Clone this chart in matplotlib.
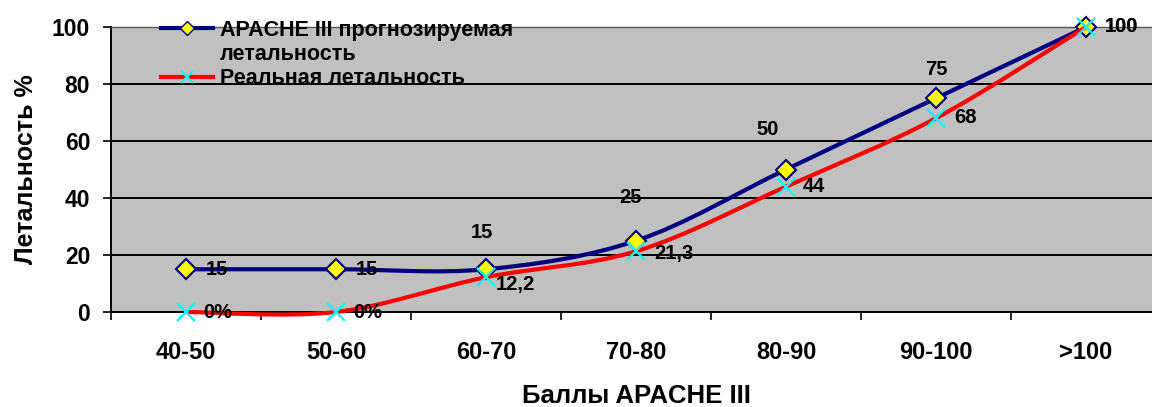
import matplotlib
matplotlib.use("Agg")
import matplotlib.pyplot as plt
from matplotlib.path import Path
from matplotlib.patches import PathPatch
from matplotlib.lines import Line2D
import numpy as np

plt.rcParams['font.family'] = ['Liberation Sans', 'DejaVu Sans']
plt.rcParams['font.weight'] = 'bold'

# ---- data ----
categories = ["40-50", "50-60", "60-70", "70-80", "80-90", "90-100", ">100"]
predicted = [15, 15, 15, 25, 50, 75, 100]
actual = [0, 0, 12.2, 21.3, 44, 68, 100]
predicted_labels = ["15", "15", "15", "25", "50", "75", "100"]
actual_labels = ["0%", "0%", "12,2", "21,3", "44", "68", "100"]
series_names = ["APACHE III прогнозируемая", "летальность", "Реальная летальность"]
y_ticks = [0, 20, 40, 60, 80, 100]

# label offsets in pixels (dx, dy up) -- layout only
pred_off = [(20, 0, 'left'), (20, 0, 'left'), (-4, 37, 'center'), (-6, 43, 'center'),
            (-18, 40, 'center'), (0, 29, 'center'), (19, 0, 'left')]
act_off = [(17, 0, 'left'), (17, 0, 'left'), (10, -7, 'left'), (18, -2, 'left'),
           (17, 0, 'left'), (18, 1, 'left'), (19, 0, 'left')]

NAVY = '#000080'
RED = '#FF0000'
GRAY = '#C0C0C0'

W, H = 1152, 407
fig = plt.figure(figsize=(W / 100, H / 100), dpi=100)
ax_l, ax_r, ax_t, ax_b = 111, 1161, 27, 312
ax = fig.add_axes([ax_l / W, 1 - ax_b / H, (ax_r - ax_l) / W, (ax_b - ax_t) / H])
ax.set_facecolor(GRAY)

x = np.arange(len(categories))


def smooth_path(xs, ys):
    pts = np.column_stack([xs, ys]).astype(float)
    n = len(pts)
    verts = [pts[0]]
    codes = [Path.MOVETO]
    for i in range(n - 1):
        p0 = pts[i - 1] if i > 0 else pts[i]
        p1 = pts[i]
        p2 = pts[i + 1]
        p3 = pts[i + 2] if i + 2 < n else pts[i + 1]
        c1 = p1 + (p2 - p0) / 6.0
        c2 = p2 - (p3 - p1) / 6.0
        verts += [c1, c2, p2]
        codes += [Path.CURVE4] * 3
    return Path(verts, codes)


px = 0.72  # pixel -> points

# predicted series
ax.add_patch(PathPatch(smooth_path(x, predicted), facecolor='none', edgecolor=NAVY,
                       lw=3, zorder=3, capstyle='round', joinstyle='round', clip_on=False))
ax.plot(x, predicted, linestyle='none', marker='D', markersize=10.5, clip_on=False,
        markerfacecolor='#FFFF00', markeredgecolor=NAVY, markeredgewidth=1.5, zorder=4)
# actual series
ax.add_patch(PathPatch(smooth_path(x, actual), facecolor='none', edgecolor=RED,
                       lw=3, zorder=5, capstyle='round', joinstyle='round', clip_on=False))
ax.plot(x, actual, linestyle='none', marker='x', markersize=13, clip_on=False,
        markeredgecolor='#00FFFF', markeredgewidth=1.6, zorder=6)

LBL = 14.5
for xi, yi, lab, (dx, dy, ha) in zip(x, predicted, predicted_labels, pred_off):
    ax.annotate(lab, (xi, yi), xytext=(dx * px, dy * px), textcoords='offset points',
                ha=ha, va='center', fontsize=LBL, fontweight='bold', zorder=7,
                annotation_clip=False)
for xi, yi, lab, (dx, dy, ha) in zip(x, actual, actual_labels, act_off):
    ax.annotate(lab, (xi, yi), xytext=(dx * px, dy * px), textcoords='offset points',
                ha=ha, va='center', fontsize=LBL, fontweight='bold', zorder=7,
                annotation_clip=False)

ax.set_xlim(-0.5, len(categories) - 0.5)
ax.set_ylim(0, 100)
ax.set_yticks(y_ticks)
ax.set_yticklabels([str(v) for v in y_ticks], fontsize=16.5, fontweight='bold')
ax.yaxis.grid(True, color='black', lw=1.4)
ax.set_axisbelow(True)
ax.tick_params(axis='y', direction='out', length=6, width=1.2, pad=9)

ax.set_xticks(np.arange(len(categories) + 1) - 0.5)
ax.set_xticklabels([])
ax.set_xticks(x, minor=True)
ax.set_xticklabels(categories, minor=True, fontsize=17, fontweight='bold')
ax.tick_params(axis='x', which='major', direction='out', length=6, width=1.2)
ax.tick_params(axis='x', which='minor', length=0, pad=21)

for s in ['left', 'bottom', 'top']:
    ax.spines[s].set_color('black')
    ax.spines[s].set_linewidth(1.4)
ax.spines['right'].set_visible(False)
ax.spines['top'].set_linewidth(1.0)
ax.spines['top'].set_color('#555555')

ax.set_xlabel("Баллы APACHE III", fontsize=18.5, fontweight='bold', labelpad=14)
ax.set_ylabel("Летальность %", fontsize=18, fontweight='bold', labelpad=10)

handles = [
    Line2D([], [], color=NAVY, lw=3, marker='D', markersize=7,
           markerfacecolor='#FFFF00', markeredgecolor=NAVY),
    Line2D([], [], color='none'),
    Line2D([], [], color=RED, lw=3, marker='x', markersize=8,
           markeredgecolor='#00FFFF', markeredgewidth=1.5),
]
leg = ax.legend(handles, series_names, loc='upper left',
                bbox_to_anchor=((161 - ax_l) / (ax_r - ax_l), (ax_b - 20) / (ax_b - ax_t)),
                frameon=False, prop={'size': 15.5, 'weight': 'bold'},
                handlelength=2.4, handletextpad=0.35, labelspacing=0.15,
                borderpad=0, borderaxespad=0)

fig.savefig("out.png", dpi=100)
